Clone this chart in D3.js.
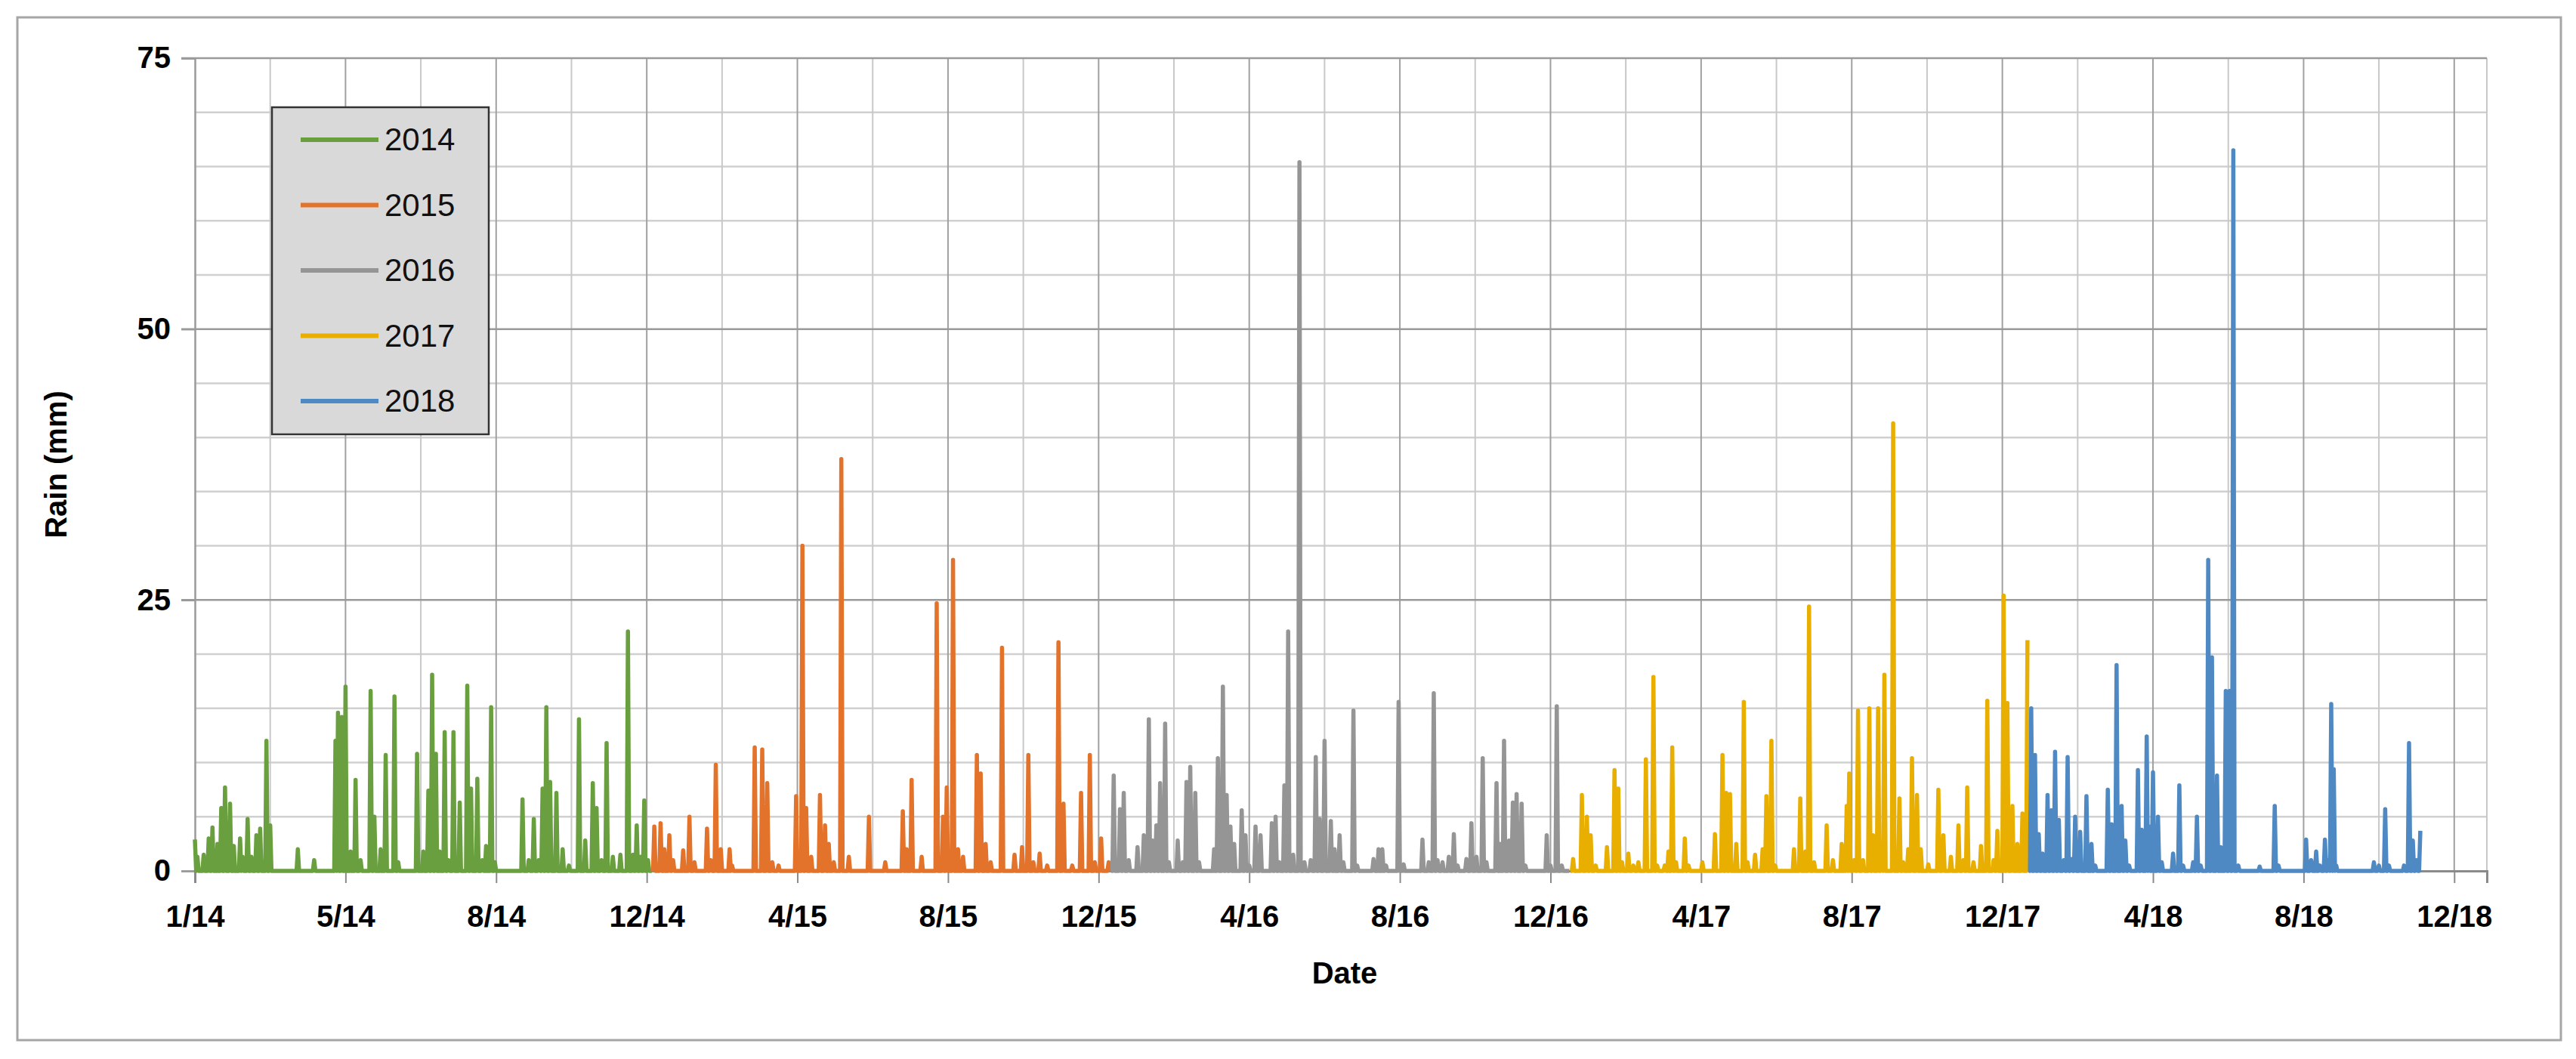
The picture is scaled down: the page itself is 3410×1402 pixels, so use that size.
<!DOCTYPE html>
<html><head><meta charset="utf-8">
<script src="https://cdn.jsdelivr.net/npm/d3@7"></script>
<style>body{margin:0;background:#fff}text{font-family:"Liberation Sans Narrow","Liberation Sans",Arial,sans-serif}</style>
</head><body><svg id="c" width="3410" height="1402"></svg>
<script>
// Data: [day-of-year, rain mm] for rainy days; unlisted days are dry (0)
const years = ["2014","2015","2016","2017","2018"];
const colors = ["#6A9F3F","#E3722A","#959595","#E8AE00","#4F89C3"];
const yearLengths = [365,365,366,365,313];
const rain2014 = [[0,2.9],[2,1.3],[7,1.5],[11,3],[14,4],[18,2.5],[21,5.8],[24,7.7],[28,6.2],[31,2.3],[36,3],[38,1.3],[42,4.8],[45,1.3],[49,3.3],[52,3.9],[57,12],[60,4.2],[82,2],[95,1],[112,12],[114,14.6],[117,14.2],[120,17],[124,1.8],[128,8.4],[132,1],[140,16.6],[143,5],[148,2],[152,10.7],[159,16.1],[162,0.8],[177,10.8],[182,1.8],[186,7.4],[189,18.1],[192,10.8],[195,1.8],[199,12.8],[202,1],[206,12.8],[211,6.3],[217,17.1],[220,7.6],[225,8.5],[229,1],[232,2.3],[236,15.1],[239,0.8],[261,6.6],[266,1],[270,4.8],[274,1],[277,7.6],[280,15.1],[283,8.2],[288,7.2],[293,2],[298,0.5],[306,14],[311,2.8],[317,8.1],[320,5.8],[324,1],[328,11.8],[333,1.3],[339,1.5],[345,22.1],[349,1.5],[352,4.2],[355,1.3],[358,6.5],[361,1]];
const rain2015 = [[1,4.1],[6,4.4],[9,2],[13,3.3],[16,1],[24,1.9],[29,5],[33,0.8],[43,3.9],[46,1],[50,9.8],[54,2],[61,2],[63,0.5],[81,11.4],[87,11.2],[91,8.1],[95,0.8],[100,0.5],[114,6.9],[119,30],[122,5.8],[126,1.3],[133,7],[137,4.2],[140,2.5],[144,0.8],[150,38],[156,1.3],[172,5],[185,0.8],[199,5.5],[202,2],[206,8.4],[214,1.3],[226,24.7],[231,5],[234,7.7],[239,28.7],[243,2],[247,1.3],[258,10.7],[261,9],[265,2.5],[269,0.8],[278,20.6],[288,1.5],[294,2.2],[299,10.7],[303,0.8],[308,1.6],[314,0.5],[323,21.1],[327,6.2],[334,0.5],[341,7.2],[348,10.7],[352,0.8],[357,3],[363,0.8]];
const rain2016 = [[2,8.8],[7,5.7],[10,7.2],[14,1],[21,2.2],[26,3.3],[30,14],[33,2.8],[36,4.2],[39,8.1],[43,13.6],[46,0.8],[53,2.8],[57,0.8],[60,8.2],[63,9.6],[67,7.2],[70,0.8],[82,2],[85,10.4],[89,17],[92,7],[95,4.1],[98,2.5],[104,5.6],[107,3.3],[110,0.5],[115,4.1],[119,3.3],[128,4.4],[131,5],[134,0.8],[138,7.9],[141,22.1],[145,1.5],[150,65.4],[154,0.8],[159,1],[163,10.5],[166,4.8],[170,12],[175,4.6],[178,2],[182,3.3],[185,0.8],[193,14.8],[196,0.5],[209,1.1],[213,2],[216,2],[219,0.5],[229,15.6],[233,0.6],[248,2.9],[253,0.8],[257,16.4],[260,1],[264,0.8],[269,1.3],[273,3.4],[276,0.5],[283,1.1],[287,4.4],[291,1.3],[296,10.4],[299,0.8],[307,8.1],[310,2.5],[313,12],[317,2.8],[320,6.3],[323,7.1],[327,6.2],[330,0.5],[347,3.3],[350,0.5],[355,15.2],[359,0.5]];
const rain2017 = [[2,1.1],[9,7],[13,5],[16,3.3],[20,0.5],[29,2.2],[35,9.3],[38,7.6],[41,0.8],[46,1.6],[50,0.5],[54,0.8],[60,10.3],[66,17.9],[69,0.5],[75,0.5],[78,1.8],[81,11.4],[84,0.8],[91,3],[94,0.5],[105,0.8],[115,3.4],[121,10.7],[124,7.2],[127,7.1],[132,2.5],[138,15.6],[141,0.8],[147,1.5],[153,2],[156,6.9],[160,12],[163,0.5],[178,2],[183,6.7],[187,1.8],[190,24.4],[194,0.8],[204,4.2],[209,1],[216,2.5],[220,6],[222,9],[226,1],[229,14.8],[233,1],[238,15],[241,3.3],[245,15],[248,1],[250,18.1],[257,41.3],[262,6.7],[265,0.8],[269,2],[272,10.4],[276,7],[279,2],[285,0.6],[293,7.5],[297,3.3],[303,1.3],[309,4.2],[313,1],[316,7.7],[321,0.8],[327,2.3],[332,15.7],[337,1],[340,3.7],[345,25.4],[348,15.5],[352,6],[356,2.5],[360,5.3],[364,21.3]];
const rain2018 = [[2,15],[5,10.7],[8,3.4],[11,1.6],[15,7],[18,5.6],[21,11],[24,4.7],[28,1],[31,10.5],[34,1.1],[37,5],[41,3.6],[46,6.9],[50,2.5],[53,0.5],[63,7.5],[66,4.3],[70,19],[74,6],[77,2.8],[80,0.5],[87,9.3],[90,3.8],[94,12.4],[96,4.1],[99,9.1],[103,5],[106,0.8],[115,1.6],[120,7.9],[123,0.5],[131,0.8],[134,5],[137,0.5],[143,28.7],[146,19.7],[150,8.8],[153,2.2],[157,16.6],[160,16.6],[163,66.5],[167,0.5],[184,0.4],[196,6],[199,0.5],[221,2.9],[225,1],[229,1.8],[232,0.5],[236,2.9],[239,1],[241,15.4],[243,9.4],[245,0.5],[275,0.8],[279,0.5],[284,5.7],[287,0.5],[299,0.5],[303,11.8],[306,2.8],[309,1],[312,3.7]];
const rainByYear = [rain2014,rain2015,rain2016,rain2017,rain2018];
const yTicks = [0,25,50,75];
const xTickDays = d3.range(0,1801,120); // Excel major unit: 120 days from 1/1/14

const svg = d3.select("#c");
const start = new Date(Date.UTC(2014,0,1));
const dayToDate = d => new Date(start.getTime()+d*864e5);
const L=258,R=3292,T=77,B=1153;
const x = d3.scaleLinear().domain([0,1826]).range([L,R]);
const y = d3.scaleLinear().domain([0,75]).range([B,T]);

svg.append("rect").attr("x",23).attr("y",23).attr("width",3367).attr("height",1354).attr("fill","#fff").attr("stroke","#A6A6A6").attr("stroke-width",3);

const g = svg.append("g");
d3.range(5,75,5).filter(v=>v%25).forEach(v=>g.append("line").attr("x1",L).attr("x2",R).attr("y1",y(v)).attr("y2",y(v)).attr("stroke","#D0D0D0").attr("stroke-width",2.5));
d3.range(60,1827,60).filter(d=>d%120).forEach(d=>g.append("line").attr("x1",x(d)).attr("x2",x(d)).attr("y1",T).attr("y2",B).attr("stroke","#C8C8C8").attr("stroke-width",2));
xTickDays.slice(1).forEach(d=>g.append("line").attr("x1",x(d)).attr("x2",x(d)).attr("y1",T).attr("y2",B).attr("stroke","#A0A0A0").attr("stroke-width",2));
g.append("line").attr("x1",R).attr("x2",R).attr("y1",T).attr("y2",B).attr("stroke","#C8C8C8").attr("stroke-width",2);
yTicks.slice(1).forEach(v=>g.append("line").attr("x1",L-18).attr("x2",R).attr("y1",y(v)).attr("y2",y(v)).attr("stroke","#9A9A9A").attr("stroke-width",2.5));

const ya = svg.append("g").attr("transform",`translate(${L},0)`).call(d3.axisLeft(y).tickValues(yTicks).tickSize(18).tickPadding(14));
ya.select(".domain").attr("stroke","#9A9A9A").attr("stroke-width",2.5);
ya.selectAll("line").attr("stroke","#9A9A9A").attr("stroke-width",2.5);
ya.selectAll("text").attr("font-size",40).attr("font-weight","bold").attr("fill","#000");
const fmt = d3.utcFormat("%-m/%y");
const xa = svg.append("g").attr("transform",`translate(0,${B})`).call(d3.axisBottom(x).tickValues(xTickDays).tickSize(16).tickPadding(30).tickFormat(d=>fmt(dayToDate(d))));
xa.select(".domain").attr("stroke","#8A8A8A").attr("stroke-width",3);
xa.selectAll("line").attr("stroke","#8A8A8A").attr("stroke-width",2);
xa.selectAll("text").attr("font-size",40).attr("font-weight","bold").attr("fill","#000");

let offset=0;
const line = d3.line().x(d=>x(d[0])).y(d=>y(d[1]));
rainByYear.forEach((arr,i)=>{
  const m = new Map(arr);
  const pts = d3.range(yearLengths[i]).map(k=>[offset+k, m.get(k)||0]);
  svg.append("path").datum(pts).attr("d",line).attr("fill","none").attr("stroke",colors[i]).attr("stroke-width",5.5).attr("stroke-linejoin","round");
  offset += [365,365,366,365,365][i];
});

svg.append("text").attr("x",(L+R)/2+5).attr("y",1302).attr("text-anchor","middle").attr("font-size",40).attr("font-weight","bold").text("Date");
svg.append("text").attr("transform","translate(88,615) rotate(-90)").attr("text-anchor","middle").attr("font-size",40).attr("font-weight","bold").text("Rain (mm)");

const lg = svg.append("g");
lg.append("rect").attr("x",360).attr("y",142).attr("width",287).attr("height",433).attr("fill","#D9D9D9").attr("stroke","#333").attr("stroke-width",2.5);
years.forEach((yr,i)=>{
  const yy = 185+i*86.5;
  lg.append("line").attr("x1",398).attr("x2",501).attr("y1",yy).attr("y2",yy).attr("stroke",colors[i]).attr("stroke-width",6);
  lg.append("text").attr("x",509).attr("y",yy+14).attr("font-size",42).attr("fill","#111").text(yr);
});
</script></body></html>
